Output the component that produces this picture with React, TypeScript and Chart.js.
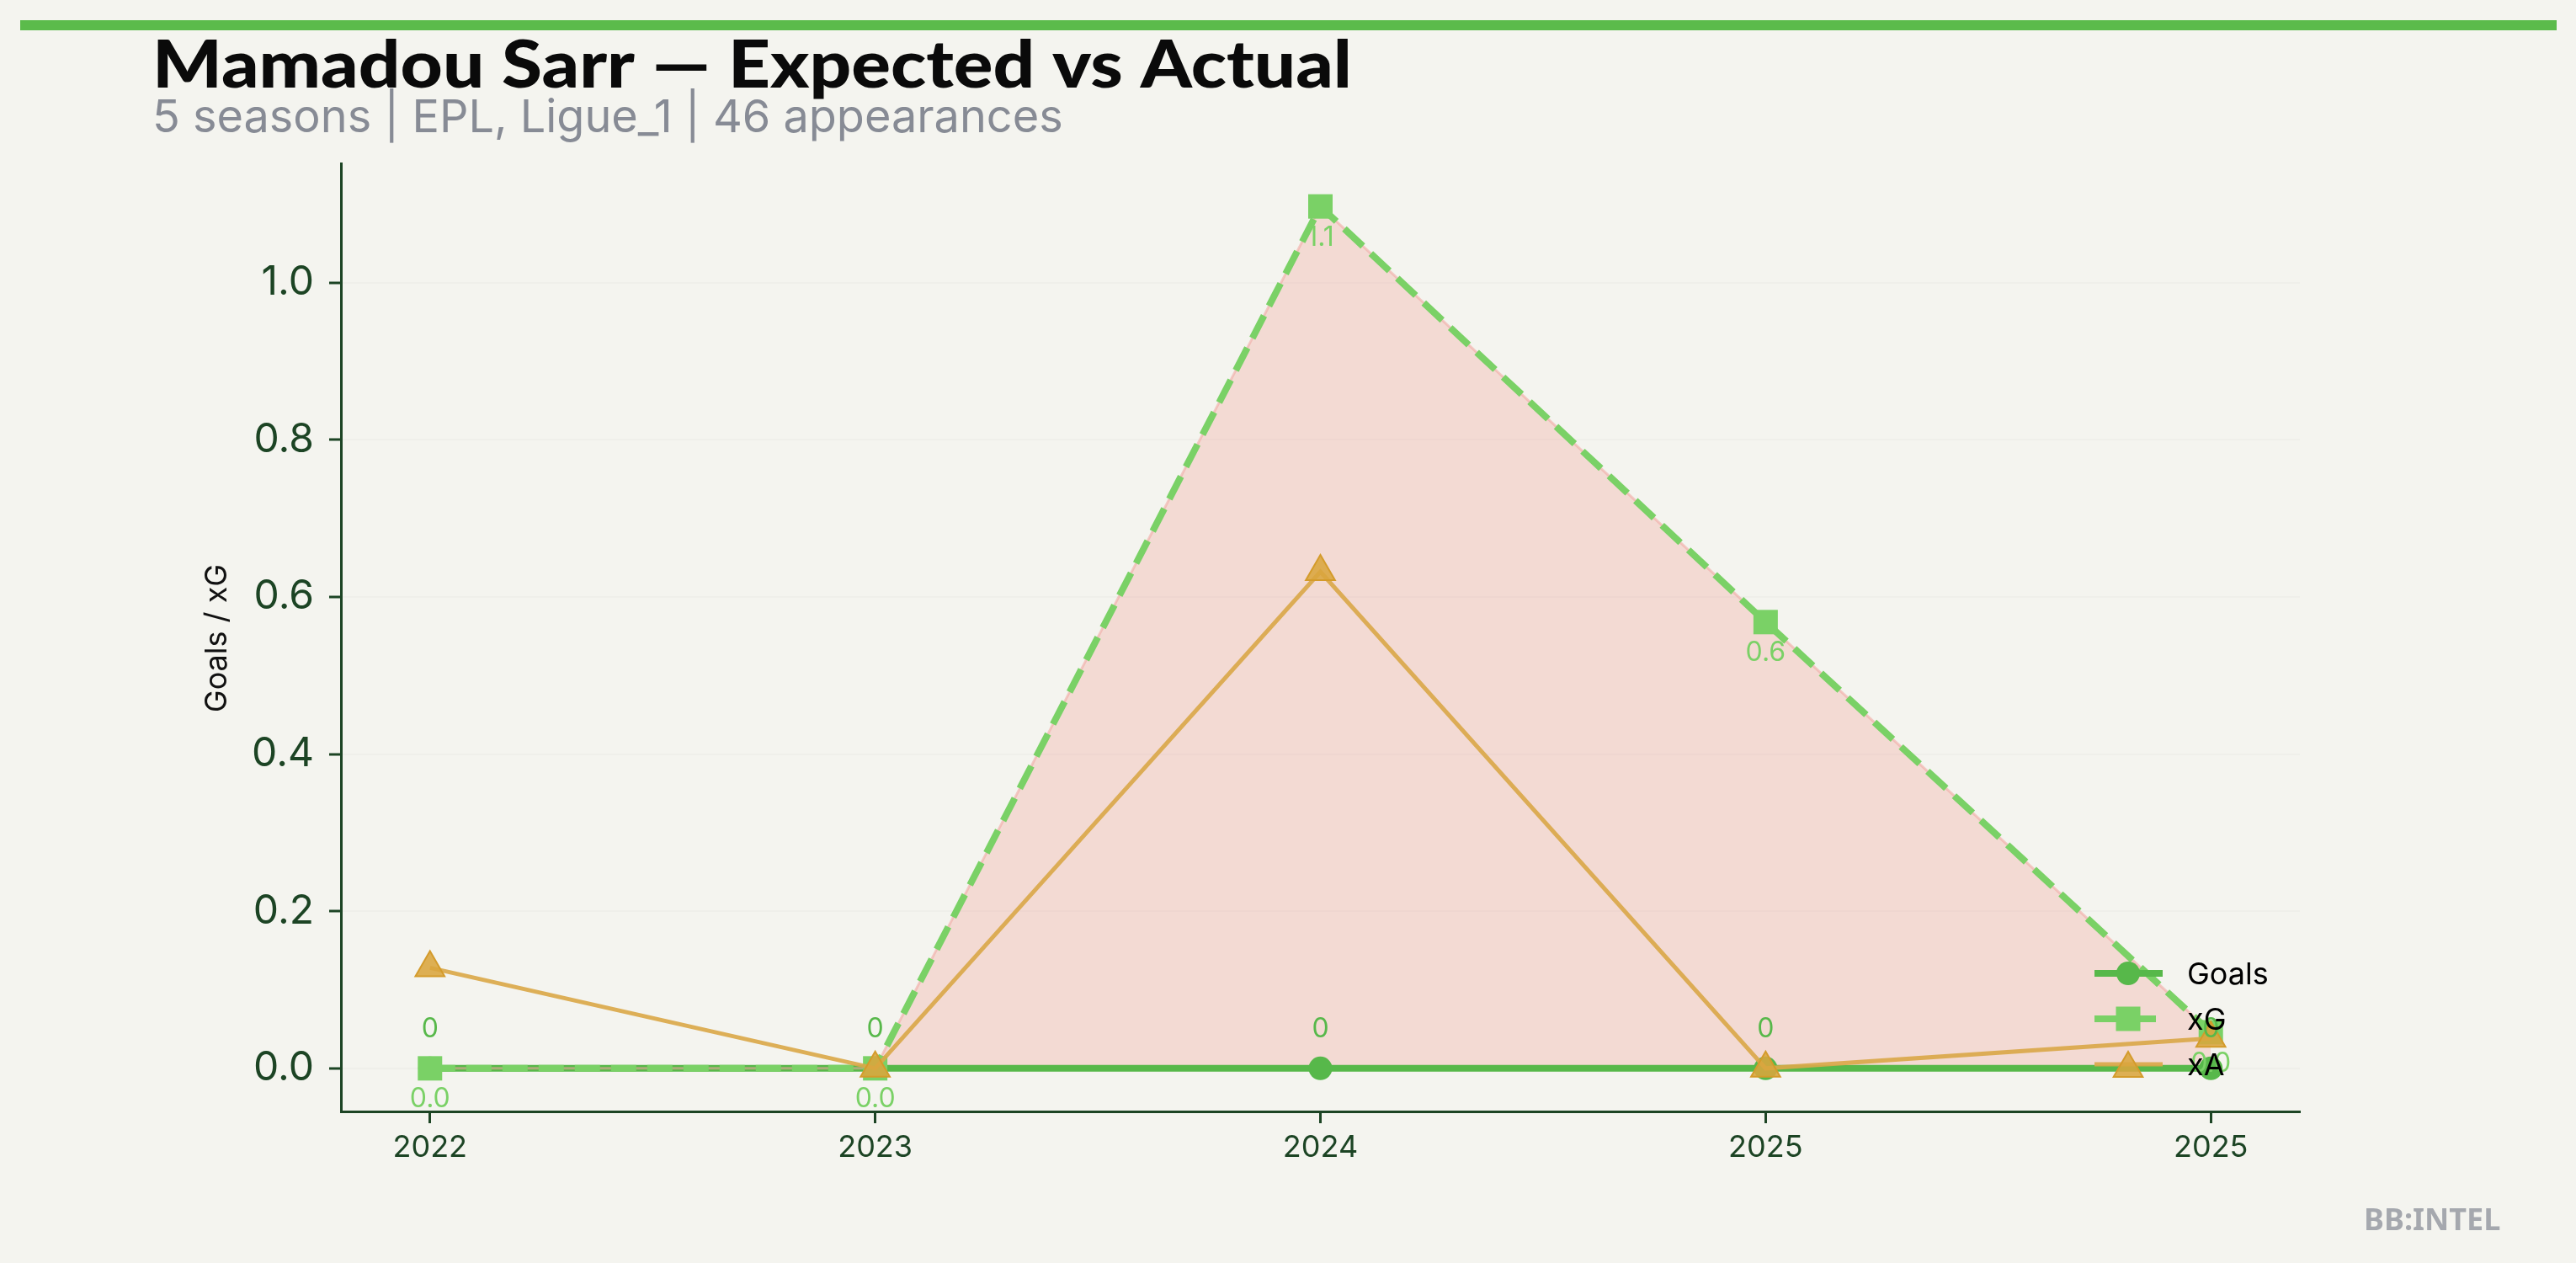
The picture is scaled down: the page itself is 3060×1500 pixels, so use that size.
import React, { useEffect, useRef } from 'react';
import { Chart, registerables } from 'chart.js';

Chart.register(...registerables);

// ---------- data ----------
const seasons = ['2022', '2023', '2024', '2025', '2025'];
const goals = [0, 0, 0, 0, 0];
const xG = [0.0, 0.0, 1.097, 0.568, 0.046];
const xA = [0.128, 0.0, 0.632, 0.0, 0.038];

const TITLE = 'Mamadou Sarr — Expected vs Actual';
const SUBTITLE = '5 seasons | EPL, Ligue_1 | 46 appearances';
const Y_LABEL = 'Goals / xG';
const WATERMARK = 'BB:INTEL';
const LEGEND_LABELS = ['Goals', 'xG', 'xA'];

// ---------- styles ----------
const W = 3060;
const H = 1500;
const BG = '#f4f4ef';
const BAR_C = '#5bbb4b';
const AXIS_C = '#1c4424';
const GRID_C = 'rgba(0,0,0,0.018)';
const GOALS_C = '#57b84a';
const XG_C = '#7ad166';
const XA_LINE = 'rgba(218,168,74,0.92)';
const XA_FILL = 'rgba(218,165,62,0.88)';
const XA_EDGE = '#d49b2b';
const FILL_C = 'rgba(242,170,160,0.35)';
const EDGE_C = 'rgba(240,165,160,0.55)';
const TITLE_WIDTH = 1425;

const pts = (arr: number[]) => arr.map((v, i) => ({ x: i, y: v }));

function drawMarker(ctx: CanvasRenderingContext2D, style: string, x: number, y: number, r: number, fill: string, stroke?: string, lw?: number) {
  ctx.save();
  ctx.beginPath();
  if (style === 'circle') {
    ctx.arc(x, y, r, 0, Math.PI * 2);
  } else if (style === 'rect') {
    const s = r * Math.SQRT1_2;
    ctx.rect(x - s, y - s, 2 * s, 2 * s);
  } else if (style === 'triangle') {
    let a = 0;
    ctx.moveTo(x + Math.sin(a) * r, y - Math.cos(a) * r);
    a += (2 * Math.PI) / 3;
    ctx.lineTo(x + Math.sin(a) * r, y - Math.cos(a) * r);
    a += (2 * Math.PI) / 3;
    ctx.lineTo(x + Math.sin(a) * r, y - Math.cos(a) * r);
    ctx.closePath();
  }
  ctx.fillStyle = fill;
  ctx.fill();
  if (stroke && lw) {
    ctx.strokeStyle = stroke;
    ctx.lineWidth = lw;
    ctx.stroke();
  }
  ctx.restore();
}

const decorPlugin = {
  id: 'decor',
  beforeDraw(chart: any) {
    const ctx = chart.ctx;
    ctx.save();
    ctx.fillStyle = BG;
    ctx.fillRect(0, 0, W, H);
    ctx.fillStyle = BAR_C;
    ctx.fillRect(24, 24, 3013, 12);
    ctx.restore();
  },
  afterDatasetsDraw(chart: any) {
    const ctx = chart.ctx;
    const xs = chart.scales.x;
    const ys = chart.scales.y;
    ctx.save();
    ctx.font = '400 32px Inter';
    ctx.textAlign = 'center';
    ctx.textBaseline = 'middle';
    goals.forEach((v, i) => {
      ctx.fillStyle = GOALS_C;
      ctx.fillText(String(v), xs.getPixelForValue(i), ys.getPixelForValue(v) - 46);
    });
    xG.forEach((v, i) => {
      ctx.fillStyle = XG_C;
      ctx.fillText(v.toFixed(1), xs.getPixelForValue(i), ys.getPixelForValue(v) + 37);
    });
    ctx.restore();
  },
  afterDraw(chart: any) {
    const ctx = chart.ctx;
    ctx.save();
    // legend
    const rows = [1156, 1210, 1264];
    const ds = chart.data.datasets;
    const legendSets = [ds[0], ds[1], ds[3]];
    legendSets.forEach((d: any, k: number) => {
      const y = rows[k];
      ctx.save();
      ctx.strokeStyle = d.borderColor;
      ctx.lineWidth = d.borderWidth;
      ctx.setLineDash(d.borderDash || []);
      ctx.beginPath();
      ctx.moveTo(2488, y);
      ctx.lineTo(2569, y);
      ctx.stroke();
      ctx.restore();
      drawMarker(ctx, d.pointStyle, 2528, y + (d.pointStyle === 'triangle' ? 5 : 0), d.pointRadius, d.pointBackgroundColor, d.pointBorderColor, d.pointBorderWidth);
      ctx.fillStyle = '#000';
      ctx.font = '400 36px Inter';
      ctx.textAlign = 'left';
      ctx.textBaseline = 'middle';
      ctx.fillText(LEGEND_LABELS[k], 2598, y + 2);
    });
    // title (stretched horizontally to the reference's width)
    ctx.save();
    ctx.fillStyle = '#0a0a0a';
    ctx.font = '900 79px Lato';
    ctx.textAlign = 'left';
    ctx.textBaseline = 'alphabetic';
    const tw = ctx.measureText(TITLE).width || TITLE_WIDTH;
    ctx.translate(181, 104);
    ctx.scale(TITLE_WIDTH / tw, 1);
    ctx.fillText(TITLE, 0, 0);
    ctx.restore();
    // subtitle
    ctx.fillStyle = '#878b95';
    ctx.font = '400 54px Inter';
    ctx.textAlign = 'left';
    ctx.textBaseline = 'alphabetic';
    ctx.fillText(SUBTITLE, 181, 157);
    // y label
    ctx.save();
    ctx.translate(258, 758);
    ctx.rotate(-Math.PI / 2);
    ctx.fillStyle = '#111';
    ctx.font = '400 36px Inter';
    ctx.textAlign = 'center';
    ctx.textBaseline = 'middle';
    ctx.fillText(Y_LABEL, 0, 0);
    ctx.restore();
    // watermark
    ctx.fillStyle = '#a5a8ae';
    ctx.font = '700 36px "Noto Sans"';
    ctx.textAlign = 'left';
    ctx.textBaseline = 'alphabetic';
    ctx.fillText(WATERMARK, 2808, 1461);
    ctx.restore();
  },
};

export default function App() {
  const ref = useRef<HTMLCanvasElement | null>(null);
  useEffect(() => {
    document.body.style.margin = '0';
    document.body.style.background = BG;
    const canvas = ref.current;
    if (!canvas) return;
    const n = seasons.length;
    const allY = [...goals, ...xG, ...xA];
    const dMin = Math.min(...allY);
    const dMax = Math.max(...allY);
    const yPad = (dMax - dMin) * 0.05;
    const xPad = (n - 1) * 0.05;

    const chart = new Chart(canvas, {
      type: 'line',
      data: {
        datasets: [
          {
            label: 'Goals',
            data: pts(goals),
            borderColor: GOALS_C,
            backgroundColor: GOALS_C,
            borderWidth: 8,
            pointStyle: 'circle',
            pointRadius: 14,
            pointBackgroundColor: GOALS_C,
            pointBorderWidth: 0,
            fill: false,
            order: 4,
          },
          {
            label: 'xG',
            data: pts(xG),
            borderColor: XG_C,
            backgroundColor: XG_C,
            borderWidth: 8,
            borderDash: [30, 13],
            pointStyle: 'rect',
            pointRadius: 20.5,
            pointBackgroundColor: XG_C,
            pointBorderWidth: 0,
            fill: { target: '-1', above: FILL_C, below: 'rgba(0,0,0,0)' },
            order: 2,
          },
          {
            label: 'xG edge',
            data: pts(xG),
            borderColor: EDGE_C,
            borderWidth: 3,
            pointRadius: 0,
            fill: false,
            order: 3,
          },
          {
            label: 'xA',
            data: pts(xA),
            borderColor: XA_LINE,
            backgroundColor: XA_FILL,
            borderWidth: 5,
            pointStyle: 'triangle',
            pointRadius: 20,
            pointBackgroundColor: XA_FILL,
            pointBorderColor: XA_EDGE,
            pointBorderWidth: 2,
            fill: false,
            order: 1,
          },
        ] as any,
      },
      options: {
        responsive: false,
        animation: false,
        devicePixelRatio: 1,
        layout: { padding: { left: 0, top: 194, right: W - 2732, bottom: 0 } },
        elements: { line: { tension: 0 } },
        plugins: {
          legend: { display: false },
          tooltip: { enabled: false },
          title: { display: false },
          filler: { drawTime: 'beforeDatasetsDraw' },
        } as any,
        scales: {
          x: {
            type: 'linear',
            min: -xPad,
            max: n - 1 + xPad,
            afterFit: (s: any) => {
              s.height = 180;
            },
            grid: {
              drawOnChartArea: false,
              drawTicks: true,
              tickLength: 14,
              tickWidth: 3,
              tickColor: AXIS_C,
            },
            border: { color: AXIS_C, width: 3 },
            ticks: {
              stepSize: 1,
              includeBounds: false,
              autoSkip: false,
              maxRotation: 0,
              padding: 8,
              color: AXIS_C,
              font: { family: 'Inter', size: 36 },
              callback: (v: any) => (Number.isInteger(v) && seasons[v] !== undefined ? seasons[v] : ''),
            },
          },
          y: {
            type: 'linear',
            position: 'left',
            min: dMin - yPad,
            max: dMax + yPad,
            afterFit: (s: any) => {
              s.width = 405;
            },
            grid: {
              color: GRID_C,
              lineWidth: 2,
              tickLength: 14,
              tickWidth: 3,
              tickColor: AXIS_C,
            },
            border: { color: AXIS_C, width: 3 },
            ticks: {
              stepSize: 0.2,
              includeBounds: false,
              padding: 18,
              color: AXIS_C,
              font: { family: 'Inter', size: 48 },
              callback: (v: any) => Number(v).toFixed(1),
            },
          },
        } as any,
      },
      plugins: [decorPlugin],
    });
    return () => chart.destroy();
  }, []);

  return (
    <div style={{ width: W, height: H, background: BG }}>
      <canvas ref={ref} width={W} height={H} style={{ display: 'block', width: W, height: H }} />
    </div>
  );
}
